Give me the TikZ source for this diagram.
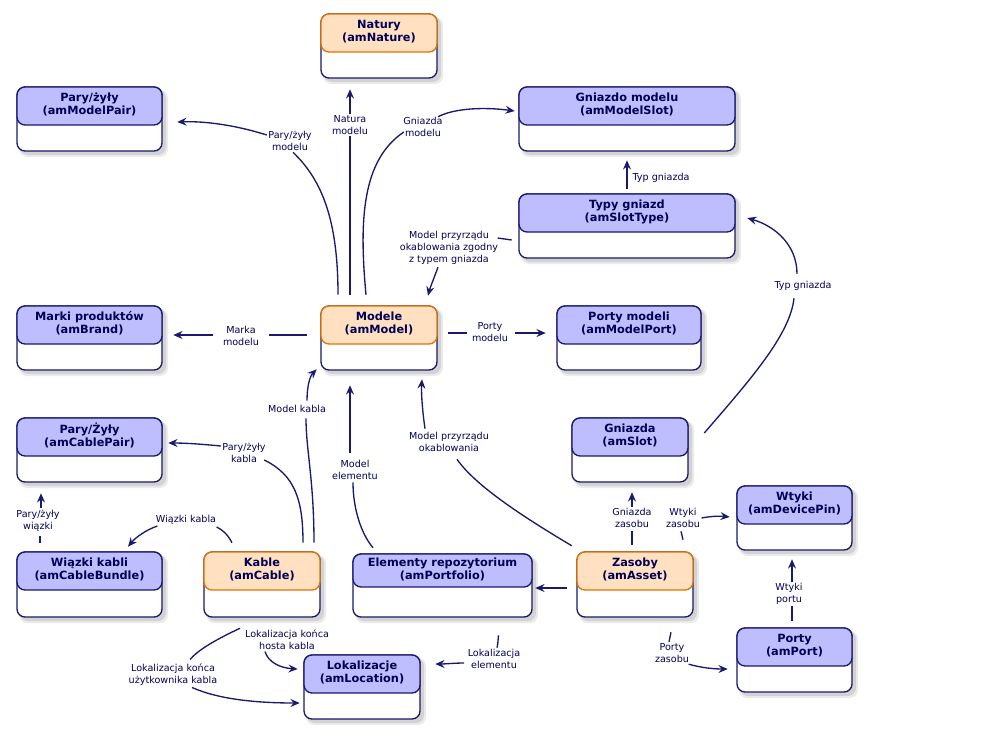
\documentclass[tikz,border=0pt]{standalone}
\usepackage{fontspec}
\setmainfont{DejaVu Sans}
\usetikzlibrary{arrows.meta,calc}
\definecolor{navy}{RGB}{25,25,110}
\definecolor{txt}{RGB}{0,0,85}
\definecolor{hblue}{RGB}{190,190,255}
\definecolor{bblue}{RGB}{25,25,110}
\definecolor{horange}{RGB}{255,224,192}
\definecolor{borange}{RGB}{225,115,0}
\tikzset{
 ln/.style={draw=navy, line width=1pt},
 arr/.style={ln, -{Stealth[length=7pt,width=6pt,inset=2.5pt]}},
 lbl/.style={font=\fontsize{7.2}{9}\selectfont, text=txt, align=center, inner sep=1pt},
 ttl/.style={font=\fontsize{8.5}{9.75}\selectfont\bfseries, text=txt, align=center, inner sep=0pt},
 boxnode/.style={inner sep=0pt, draw=none},
}
\newcommand{\entity}[8]{%
 \fill[black,opacity=0.08,rounded corners=6pt] (#2+2,#3+3) rectangle (#4+6,#5+6);
 \fill[black,opacity=0.10,rounded corners=6pt] (#2+3,#3+3) rectangle (#4+4,#5+4);
 \fill[white,rounded corners=6pt] (#2,#3) rectangle (#4,#5);
 \draw[navy,line width=1pt,rounded corners=6pt] (#2,#3) rectangle (#4,#5);
 \filldraw[fill=h#8, draw=b#8, line width=1pt, rounded corners=6pt] (#2,#3) rectangle (#4,#6);
 \node[ttl] at ({(#2+#4)/2},{(#3+#6)/2-1.5}) {#7};
 \node[boxnode, minimum width={(#4-#2)*0.75pt}, minimum height={(#5-#3)*0.75pt}] (#1) at ({(#2+#4)/2},{(#3+#5)/2}) {};
}
\begin{document}
\begin{tikzpicture}[x=0.75pt,y=-0.75pt]
\useasboundingbox (0,0) rectangle (1000,750);
\fill[white] (0,0) rectangle (1000,750);

% entities
\entity{natury}{321}{14}{437}{78}{52}{Natury\\(amNature)}{orange}
\entity{mpair}{17}{87}{162}{151}{125}{Pary/żyły\\(amModelPair)}{blue}
\entity{mslot}{519}{87}{735}{151}{125}{Gniazdo modelu\\(amModelSlot)}{blue}
\entity{slottype}{519}{194}{735}{258}{232}{Typy gniazd\\(amSlotType)}{blue}
\entity{brand}{17}{306}{162}{370}{344}{Marki produktów\\(amBrand)}{blue}
\entity{model}{321}{306}{437}{370}{344}{Modele\\(amModel)}{orange}
\entity{mport}{557}{306}{701}{370}{344}{Porty modeli\\(amModelPort)}{blue}
\entity{cpair}{17}{418}{162}{482}{456}{Pary/Żyły\\(amCablePair)}{blue}
\entity{slot}{572}{418}{688}{482}{456}{Gniazda\\(amSlot)}{blue}
\entity{pin}{737}{486}{852}{550}{524}{Wtyki\\(amDevicePin)}{blue}
\entity{bundle}{17}{552}{162}{617}{590}{Wiązki kabli\\(amCableBundle)}{blue}
\entity{cable}{204}{552}{320}{617}{590}{Kable\\(amCable)}{orange}
\entity{portf}{353}{554}{532}{617}{587}{Elementy repozytorium\\(amPortfolio)}{blue}
\entity{asset}{577}{552}{693}{617}{590}{Zasoby\\(amAsset)}{orange}
\entity{loc}{304}{655}{420}{719}{693}{Lokalizacje\\(amLocation)}{blue}
\entity{port}{737}{628}{852}{692}{666}{Porty\\(amPort)}{blue}

% labels
\node[lbl] (lPairM) at (290,141) {Pary/żyły\\modelu};
\node[lbl] (lNat) at (350,125) {Natura\\modelu};
\node[lbl] (lSlotM) at (423,127) {Gniazda\\modelu};
\node[lbl] (lCompat) at (449,248) {Model przyrządu\\okablowania zgodny\\z typem gniazda};
\node[lbl] (lBrand) at (241,336) {Marka\\modelu};
\node[lbl] (lMPort) at (490,332) {Porty\\modelu};
\node[lbl, anchor=west] (lTypG) at (631,178) {Typ gniazda};
\node[lbl] (lTypG2) at (803,286) {Typ gniazda};
\node[lbl] (lMKab) at (297,409) {Model kabla};
\node[lbl] (lPairK) at (244,453) {Pary/żyły\\kabla};
\node[lbl] (lWiaz) at (186,520) {Wiązki kabla};
\node[lbl] (lPairW) at (38,521) {Pary/żyły\\wiązki};
\node[lbl] (lMElem) at (355,470) {Model\\elementu};
\node[lbl] (lMPrz) at (449,442) {Model przyrządu\\okablowania};
\node[lbl] (lGnZ) at (632,518) {Gniazda\\zasobu};
\node[lbl] (lWtZ) at (683,518) {Wtyki\\zasobu};
\node[lbl] (lWtP) at (789,594) {Wtyki\\portu};
\node[lbl] (lPoZ) at (672,653) {Porty\\zasobu};
\node[lbl] (lLokE) at (494,659) {Lokalizacja\\elementu};
\node[lbl] (lHost) at (287,640) {Lokalizacja końca\\hosta kabla};
\node[lbl] (lUser) at (173,675) {Lokalizacja końca\\użytkownika kabla};

% connectors
% Modele -> Pary/zyly modelu
\draw[ln] ($(model.north)+(-41,-11)$) .. controls (338,220) and (322,180) .. ($(lPairM.south)+(3,0)$);
\draw[arr] ($(lPairM.west)+(0,-6)$) .. controls (235,125) and (205,121) .. ($(mpair.east)+(15,3)$);
% Modele -> Natury
\draw[ln] ($(model.north)+(-29,-11)$) -- (lNat.south);
\draw[arr] (lNat.north) -- ($(natury.south)+(-29,11)$);
% Modele -> Gniazdo modelu
\draw[ln] ($(model.north)+(-13,-11)$) .. controls (359,220) and (362,160) .. ($(lSlotM.west)+(2,5)$);
\draw[arr] ($(lSlotM.north east)+(-6,1)$) .. controls (455,108) and (485,107) .. ($(mslot.west)+(-4,-8)$);
% Typy gniazd -> Modele (zgodny)
\draw[ln] ($(slottype.west)+(-7,14)$) -- ($(lCompat.east)+(-2,-10)$);
\draw[arr] ($(lCompat.south)+(-11,1)$) .. controls (434,278) and (430,288) .. ($(model.north)+(49,-10)$);
% Modele -> Marki
\draw[ln] ($(model.west)+(-14,-3)$) -- ($(lBrand.east)+(8,-1)$);
\draw[arr] ($(lBrand.west)+(-8,-1)$) -- ($(brand.east)+(11,-3)$);
% Modele -> Porty modeli
\draw[ln] ($(model.east)+(11,-5)$) -- ($(lMPort.west)+(-3,1)$);
\draw[arr] ($(lMPort.east)+(5,1)$) -- ($(mport.west)+(-11,-5)$);
% Typy gniazd -> Gniazdo modelu
\draw[arr] ($(slottype.north)+(0,-5)$) -- ($(mslot.south)+(0,9)$);
% Gniazda -> Typy gniazd
\draw[ln] ($(slot.east)+(16,-17)$) .. controls (750,380) and (790,335) .. ($(lTypG2.south)+(-9,6)$);
\draw[arr] ($(lTypG2.north)+(-6,-6)$) .. controls (797,245) and (775,226) .. ($(slottype.east)+(12,-8)$);
% Kable -> Modele
\draw[ln] ($(cable.north)+(52,-9)$) .. controls (314,480) and (306,450) .. ($(lMKab.south)+(9,4)$);
\draw[arr] ($(lMKab.north)+(10,-3)$) .. controls (307,386) and (310,376) .. ($(model.south west)+(-4,-1)$);
% Kable -> Pary/Zyly kabla
\draw[ln] ($(cable.north)+(41,-9)$) .. controls (303,500) and (295,475) .. ($(lPairK.east)+(-3,7)$);
\draw[arr] ($(lPairK.west)+(0,-7)$) .. controls (200,444) and (185,443) .. ($(cpair.east)+(6,-7)$);
% Kable -> Wiazki
\draw[ln] ($(cable.north)+(-30,-9)$) .. controls (228,535) and (223,530) .. ($(lWiaz.east)+(-1,7)$);
\draw[arr] ($(lWiaz.west)+(3,6)$) .. controls (146,530) and (136,537) .. ($(bundle.north)+(38.5,-5)$);
% Wiazki -> Pary/Zyly
\draw[ln] ($(bundle.north)+(-49.5,-9)$) -- ($(lPairW.south)+(2,3)$);
\draw[arr] ($(lPairW.north)+(3,-1)$) -- ($(cpair.south)+(-48.5,11)$);
% Elementy -> Modele
\draw[ln] ($(portf.north)+(-69.5,-6)$) .. controls (362,535) and (353,510) .. ($(lMElem.south)+(-2,1)$);
\draw[arr] ($(lMElem.north)+(-5,-6)$) -- ($(model.south)+(-29,15)$);
% Zasoby -> Modele
\draw[ln] ($(asset.north west)+(-5,-6)$) .. controls (520,515) and (475,485) .. ($(lMPrz.south)+(8,6)$);
\draw[arr] ($(lMPrz.north)+(-24,-2)$) .. controls (423,415) and (421,395) .. ($(model.south)+(43,9)$);
% Zasoby -> Elementy
\draw[arr] ($(asset.west)+(-10,3.5)$) -- ($(portf.east)+(3,2.5)$);
% Zasoby -> Gniazda
\draw[ln] ($(asset.north)+(-3,-7)$) -- ($(lGnZ.south)+(0,2)$);
\draw[arr] (lGnZ.north) -- ($(slot.south)+(2,10)$);
% Zasoby -> Wtyki
\draw[ln] ($(asset.north)+(48,-12)$) -- ($(lWtZ.south)+(-2,2)$);
\draw[arr] (lWtZ.east) .. controls (712,516) and (720,516) .. ($(pin.west)+(-7,-1)$);
% Porty -> Wtyki
\draw[ln] ($(port.north)+(-2.5,-7)$) -- ($(lWtP.south)+(3,0)$);
\draw[arr] ($(lWtP.north)+(3,0)$) -- ($(pin.south)+(-2.5,9)$);
% Zasoby -> Porty
\draw[ln] ($(asset.south)+(36,15)$) -- ($(lPoZ.north)+(-3,0)$);
\draw[arr] ($(lPoZ.south east)+(-2,0)$) .. controls (702,668) and (715,669) .. ($(port.west)+(-9,9)$);
% Elementy -> Lokalizacje
\draw[ln] ($(portf.south)+(56,18)$) .. controls (498,640) and (498,644) .. ($(lLokE.north)+(3,0)$);
\draw[arr] ($(lLokE.west)+(-2,4)$) .. controls (455,663) and (445,664) .. ($(loc.east)+(15,-23)$);
% Kable -> Lokalizacje (host)
\draw[arr] ($(lHost.south)+(-22,0)$) .. controls (268,662) and (280,668) .. ($(loc.west)+(-6,-18)$);
% Kable -> Lokalizacje (user)
\draw[ln] ($(cable.south)+(-22,11)$) .. controls (215,640) and (198,650) .. ($(lUser.north)+(17,-3)$);
\draw[arr] ($(lUser.south)+(19,0)$) .. controls (220,700) and (260,703) .. ($(loc.west)+(-4,16)$);
\end{tikzpicture}
\end{document}
